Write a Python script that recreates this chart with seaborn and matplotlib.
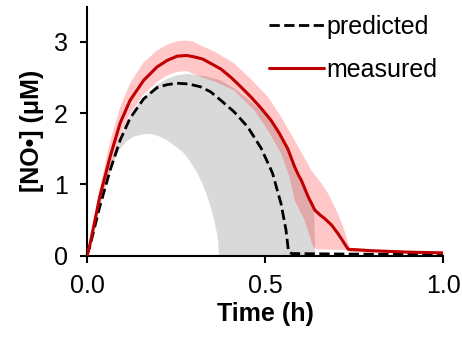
import numpy as np
import pandas as pd
import matplotlib
matplotlib.use("Agg")
import matplotlib.pyplot as plt
import seaborn as sns
from matplotlib.lines import Line2D

# ---- data ----
pred_t = [0, 0.008, 0.036, 0.065, 0.093, 0.121, 0.159, 0.197, 0.225, 0.253, 0.285, 0.319,
          0.347, 0.376, 0.413, 0.451, 0.489, 0.521, 0.545, 0.559, 0.566, 0.575, 0.8, 1.0]
pred_y = [0, 0.13, 0.69, 1.20, 1.62, 1.93, 2.20, 2.36, 2.40, 2.42, 2.41, 2.37,
          2.30, 2.18, 2.02, 1.81, 1.51, 1.16, 0.73, 0.36, 0.06, 0.03, 0.02, 0.02]

meas_t = [0, 0.008, 0.036, 0.065, 0.093, 0.121, 0.159, 0.197, 0.225, 0.253, 0.28, 0.301,
          0.325, 0.347, 0.376, 0.405, 0.432, 0.460, 0.489, 0.517, 0.54, 0.564, 0.583,
          0.595, 0.602, 0.621, 0.640, 0.655, 0.668, 0.687, 0.705, 0.717, 0.727, 0.734,
          0.80, 0.90, 1.0]
meas_y = [0, 0.15, 0.83, 1.39, 1.86, 2.18, 2.46, 2.65, 2.74, 2.80, 2.81, 2.79,
          2.76, 2.70, 2.62, 2.50, 2.37, 2.23, 2.07, 1.90, 1.72, 1.50, 1.25,
          1.12, 1.06, 0.83, 0.64, 0.57, 0.52, 0.43, 0.31, 0.22, 0.14, 0.09,
          0.07, 0.05, 0.04]

gray_up_t = [0, 0.036, 0.065, 0.093, 0.121, 0.159, 0.197, 0.225, 0.253, 0.28, 0.30, 0.34,
             0.376, 0.413, 0.451, 0.48, 0.508, 0.545, 0.569, 0.588, 0.61, 0.63, 0.638, 0.641]
gray_up_y = [0, 0.72, 1.26, 1.66, 1.96, 2.22, 2.40, 2.48, 2.53, 2.55, 2.54, 2.51,
             2.46, 2.35, 2.20, 2.08, 1.96, 1.68, 1.42, 1.16, 0.95, 0.78, 0.70, 0.0]
gray_lo_t = [0, 0.036, 0.06, 0.075, 0.093, 0.11, 0.131, 0.155, 0.178, 0.20, 0.225, 0.25,
             0.272, 0.29, 0.310, 0.325, 0.338, 0.35, 0.357, 0.364, 0.368, 0.371, 0.641]
gray_lo_y = [0, 0.66, 1.10, 1.32, 1.50, 1.60, 1.67, 1.70, 1.71, 1.68, 1.62, 1.53,
             1.44, 1.32, 1.16, 1.00, 0.83, 0.64, 0.50, 0.34, 0.22, 0.0, 0.0]

red_up_t = [0, 0.036, 0.065, 0.093, 0.121, 0.159, 0.197, 0.225, 0.253, 0.28, 0.30, 0.319,
            0.36, 0.413, 0.46, 0.508, 0.545, 0.583, 0.630, 0.658, 0.68, 0.705, 0.72, 0.734,
            0.738, 0.80, 1.0]
red_up_y = [0, 0.95, 1.60, 2.08, 2.42, 2.71, 2.88, 2.96, 3.01, 3.02, 3.00, 2.95,
            2.86, 2.70, 2.48, 2.23, 1.95, 1.62, 1.20, 1.02, 0.85, 0.59, 0.40, 0.18,
            0.11, 0.09, 0.05]
red_lo_t = [0, 0.036, 0.065, 0.093, 0.121, 0.159, 0.197, 0.225, 0.253, 0.28, 0.319, 0.36,
            0.413, 0.47, 0.508, 0.545, 0.569, 0.583, 0.611, 0.635, 0.645, 0.73, 0.74, 1.0]
red_lo_y = [0, 0.72, 1.20, 1.68, 1.99, 2.26, 2.44, 2.53, 2.58, 2.59, 2.51, 2.44,
            2.32, 2.04, 1.76, 1.44, 1.10, 0.78, 0.50, 0.13, 0.09, 0.08, 0.05, 0.03]

x_ticks = [0.0, 0.5, 1.0]
y_ticks = [0, 1, 2, 3]
labels = ["predicted", "measured"]

# ---- style ----
sns.set_style("ticks")
plt.rcParams['font.family'] = ['Liberation Sans', 'DejaVu Sans']
plt.rcParams['text.color'] = 'black'
plt.rcParams['axes.labelcolor'] = 'black'
FS = 18

fig = plt.figure(figsize=(4.62, 3.41), dpi=100)
ax = fig.add_axes([87/462, 1 - 255.7/341, (443 - 87)/462, (255.7 - 7)/341])

red = '#C00000'

# shaded bands
ax.fill(np.r_[gray_up_t, gray_lo_t[::-1]], np.r_[gray_up_y, gray_lo_y[::-1]],
        color='#D9D9D9', lw=0, zorder=1)
ax.fill(np.r_[red_up_t, red_lo_t[::-1]], np.r_[red_up_y, red_lo_y[::-1]],
        color=(1.0, 0.0, 0.0), alpha=0.22, lw=0, zorder=2)

df_pred = pd.DataFrame({"t": pred_t, "y": pred_y})
df_meas = pd.DataFrame({"t": meas_t, "y": meas_y})
sns.lineplot(data=df_pred, x="t", y="y", ax=ax, color='black', lw=2.0,
             linestyle='--', estimator=None, zorder=4)
sns.lineplot(data=df_meas, x="t", y="y", ax=ax, color=red, lw=2.2,
             estimator=None, zorder=5)

ax.set_xlim(0, 1.0)
ax.set_ylim(0, 3.49)
ax.set_xticks(x_ticks)
ax.set_xticklabels([f"{v:.1f}" for v in x_ticks])
ax.set_yticks(y_ticks)
ax.set_yticklabels([str(v) for v in y_ticks])
for s in ['top', 'right']:
    ax.spines[s].set_visible(False)
for s in ['left', 'bottom']:
    ax.spines[s].set_linewidth(1.5)
    ax.spines[s].set_color('black')
ax.tick_params(axis='both', direction='out', length=5, width=1.5, colors='black',
               labelsize=FS)
ax.tick_params(axis='y', pad=9)
ax.tick_params(axis='x', pad=8)

ax.set_xlabel("Time (h)", fontsize=FS, fontweight='bold', labelpad=3)
ax.set_ylabel("[NO•] (μM)", fontsize=FS, fontweight='bold', labelpad=7)

handles = [Line2D([], [], color='black', lw=2.0, linestyle='--'),
           Line2D([], [], color=red, lw=2.2)]
leg = ax.legend(handles, labels, loc='upper right', bbox_to_anchor=(0.985, 0.968),
                frameon=False, fontsize=FS, handlelength=2.2, handletextpad=0.1,
                labelspacing=0.75, borderpad=0, borderaxespad=0)

fig.savefig("out.png", dpi=100)
